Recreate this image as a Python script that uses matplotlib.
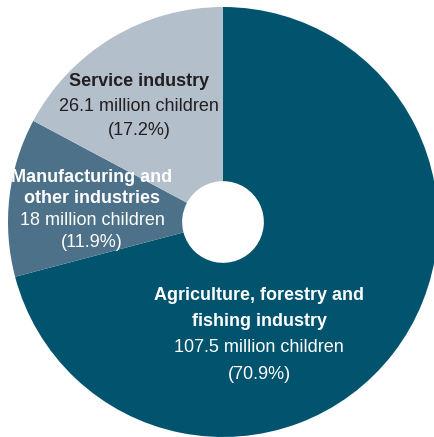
import matplotlib.pyplot as plt
from matplotlib import font_manager

# Sectors of child labour
sectors = ['Agriculture, forestry and\nfishing industry',
           'Manufacturing and\nother industries',
           'Service industry']
children = [107.5, 18.0, 26.1]   # million children
shares = [70.9, 11.9, 17.2]      # percent
colors = ['#02546e', '#4c7189', '#b4bfcc']
text_colors = ['white', 'white', '#231f20']

names = [f.name for f in font_manager.fontManager.ttflist]
family = 'Liberation Sans Narrow' if 'Liberation Sans Narrow' in names else 'Liberation Sans'

fig = plt.figure(figsize=(4.34, 4.37), dpi=100)
ax = fig.add_axes([8 / 434, 0, 430 / 434, 430 / 437])
ax.pie(shares, colors=colors, startangle=90, counterclock=False,
       radius=1, wedgeprops=dict(width=0.81, edgecolor='none'))
ax.set_xlim(-1, 1)
ax.set_ylim(-1, 1)
ax.set_aspect('equal')
ax.axis('off')

# label centres in data coords (pixel positions of the reference mapped onto the pie)
def to_data(px, py):
    return (px - 223) / 215, (222 - py) / 215

label_pos = [(259, 295), (92, 177), (139, 82)]
gaps = [26.5, 22, 24.5]  # line spacing in px
for i in range(len(sectors)):
    x, y = to_data(*label_pos[i])
    g = gaps[i] / 215
    lines = sectors[i].split('\n')
    for j, ln in enumerate(lines):
        ax.text(x, y - j * g, ln, ha='center', va='center',
                fontsize=13, fontweight='bold', color=text_colors[i], family=family)
    n = len(lines)
    ax.text(x, y - n * g, f'{children[i]:g} million children',
            ha='center', va='center', fontsize=13, color=text_colors[i], family=family)
    ax.text(x, y - (n + 1) * g, f'({shares[i]}%)',
            ha='center', va='center', fontsize=13, color=text_colors[i], family=family)

fig.savefig('out.png', dpi=100)
